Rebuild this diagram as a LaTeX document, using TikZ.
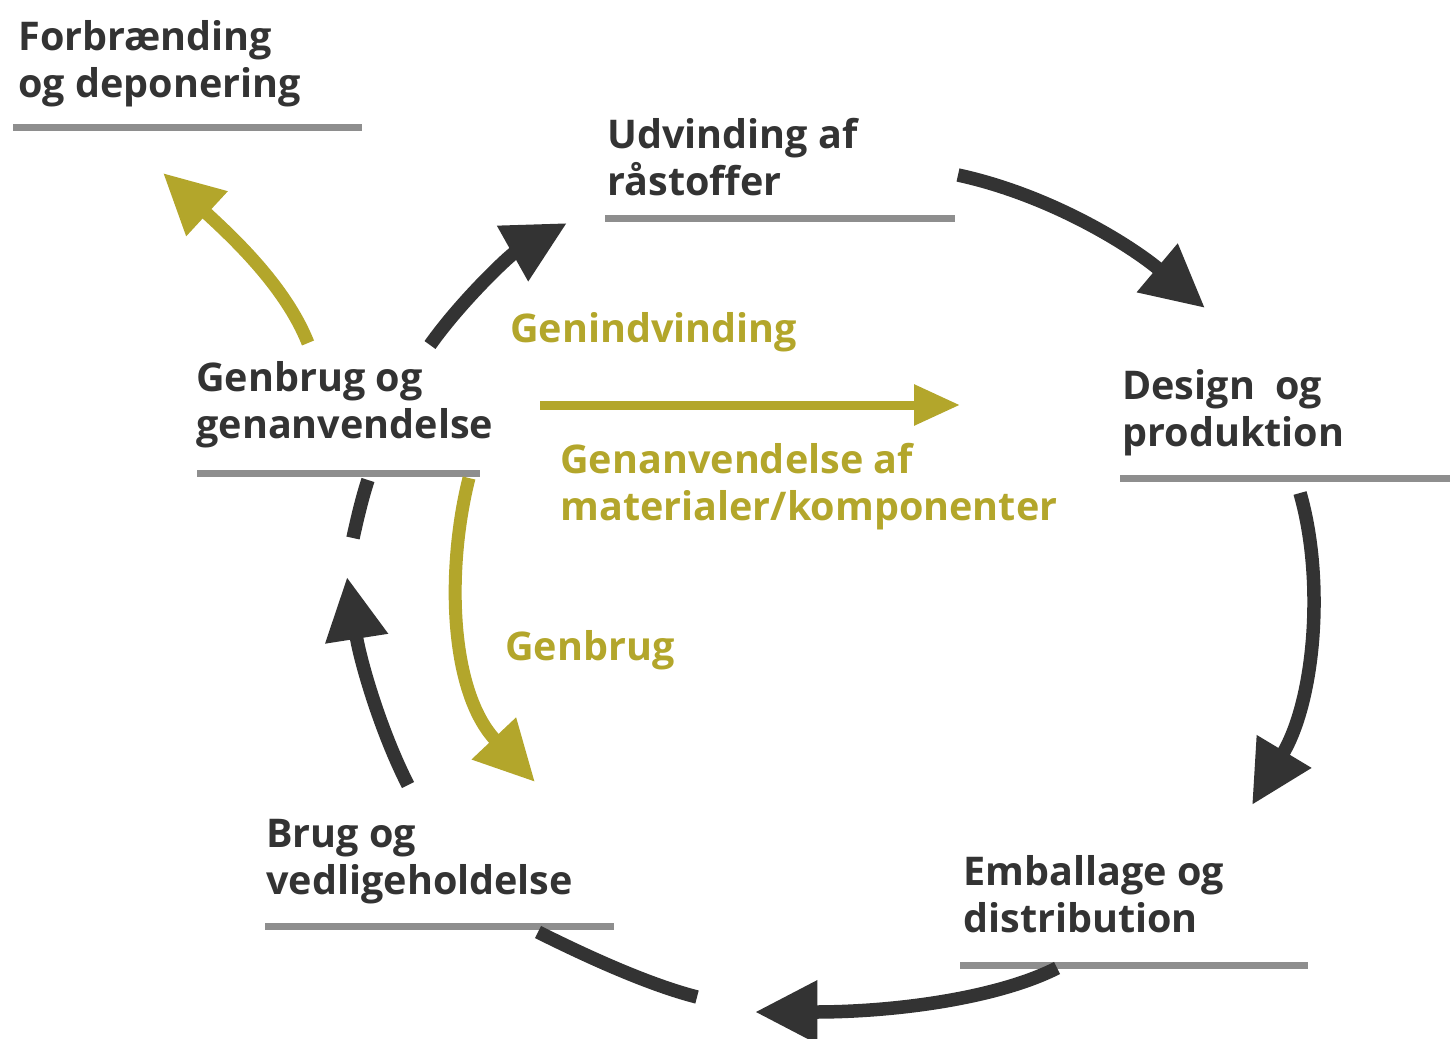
\documentclass[tikz,border=0pt]{standalone}
\usepackage{fontspec}
\setmainfont{Open Sans}
\usepackage{xcolor}
\usepackage{tikz}
\usetikzlibrary{arrows.meta}
\definecolor{darkgrey}{HTML}{333333}
\definecolor{oliven}{HTML}{B3A62B}
\definecolor{rulegrey}{HTML}{8E8E8E}
\def\lblfont{\fontsize{22.5}{26.3}\selectfont\bfseries}

\begin{document}
\begin{tikzpicture}[x=0.02cm,y=-0.02cm,
	lbl/.style={anchor=base west,align=left,inner sep=0pt,text=darkgrey,font=\lblfont},
	olbl/.style={lbl,text=oliven},
	underline/.style={rulegrey,line width=0.14cm},
	darr/.style={darkgrey,line width=0.27cm,-{Triangle[length=1.25cm,width=1.2cm]}},
	dline/.style={darkgrey,line width=0.27cm},
	oarr/.style={oliven,line width=0.26cm,-{Triangle[length=1.2cm,width=1.15cm]}},
	]
	\useasboundingbox (0,0) rectangle (1450,1038);
	% stations (anchored on the last line)
	\node[lbl] (forbr) at (18,97) {Forbrænding\\og deponering};
	\node[lbl] (udv) at (607,195) {Udvinding af\\råstoffer};
	\node[lbl] (design) at (1122,446) {Design\ \ og\\produktion};
	\node[lbl] (emb) at (963,932) {Emballage og\\distribution};
	\node[lbl] (brug) at (266,894) {Brug og\\vedligeholdelse};
	\node[lbl] (genbrug) at (196,438) {Genbrug og\\genanvendelse};
	% olive labels
	\node[olbl] (genind) at (510,342) {Genindvinding};
	\node[olbl] (genanv) at (560,520) {Genanvendelse af\\materialer/komponenter};
	\node[olbl] (genb) at (505,660) {Genbrug};
	% grey rules
	\draw[underline] (13,127) -- (362,127);
	\draw[underline] (605,218) -- (955,218);
	\draw[underline] (1120,478) -- (1450,478);
	\draw[underline] (960,965) -- (1308,965);
	\draw[underline] (265,926) -- (614,926);
	\draw[underline] (197,473) -- (480,473);
	% arrow ends
	\coordinate (a1) at (958,175); \coordinate (b1) at (1205,308);
	\coordinate (a2) at (1300,493); \coordinate (b2) at (1252,805);
	\coordinate (a3) at (1057,968); \coordinate (b3) at (755,1012);
	\coordinate (a4) at (697,997); \coordinate (b4) at (538,932);
	\coordinate (a5) at (408,785); \coordinate (b5) at (347,577);
	\coordinate (a6) at (353,538); \coordinate (b6) at (368,480);
	\coordinate (a7) at (430,345); \coordinate (b7) at (567,223);
	\coordinate (a8) at (308,343); \coordinate (b8) at (163,173);
	\coordinate (a9) at (469,478); \coordinate (b9) at (535,782);
	\coordinate (a10) at (540,405); \coordinate (b10) at (960,405);
	% cycle
	\draw[darr] (a1) .. controls (1050,195) and (1130,245) .. (b1);
	\draw[darr] (a2) .. controls (1325,580) and (1315,700) .. (b2);
	\draw[darr] (a3) .. controls (1000,997) and (900,1012) .. (b3);
	\draw[dline] (a4) .. controls (650,985) and (590,958) .. (b4);
	\draw[darr] (a5) .. controls (380,730) and (360,660) .. (b5);
	\draw[dline] (a6) .. controls (358,515) and (363,495) .. (b6);
	\draw[darr] (a7) .. controls (462,300) and (510,255) .. (b7);
	% olive arrows
	\draw[oarr] (a8) .. controls (285,285) and (230,235) .. (b8);
	\draw[oarr] (a9) .. controls (447,565) and (448,690) .. (b9);
	\draw[oliven,line width=0.18cm,-{Triangle[length=0.92cm,width=0.78cm]}] (a10) -- (b10);
\end{tikzpicture}
\end{document}
